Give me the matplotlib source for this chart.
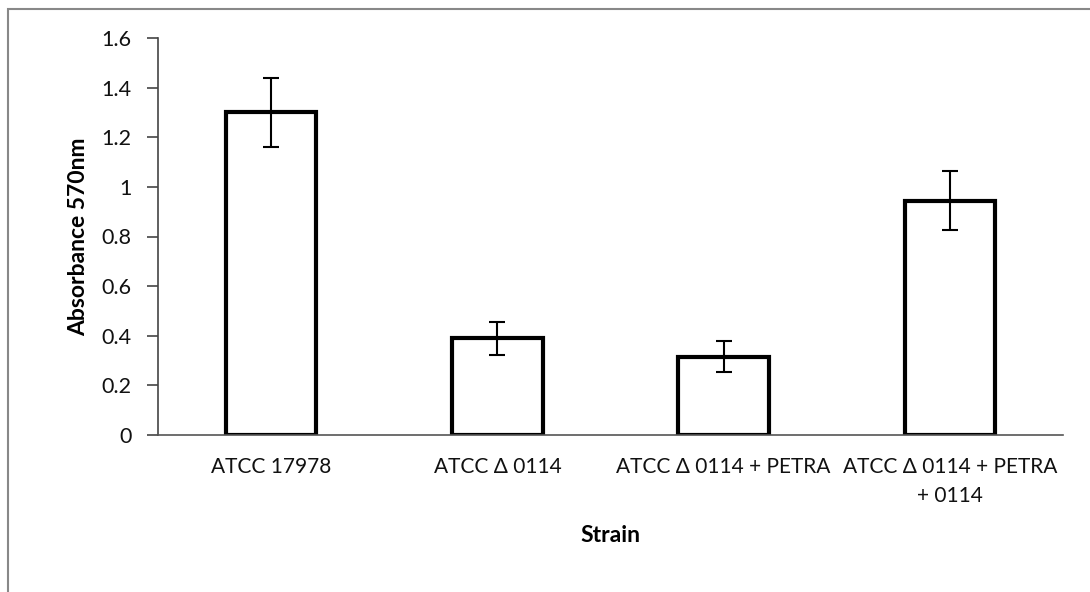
import matplotlib
matplotlib.use("Agg")
import matplotlib.pyplot as plt
from matplotlib.patches import Rectangle

strains = ["ATCC 17978", "ATCC \u0394 0114", "ATCC \u0394 0114 + PETRA",
           "ATCC \u0394 0114 + PETRA\n+ 0114"]
absorbance = [1.30, 0.39, 0.315, 0.945]
errors = [0.14, 0.067, 0.062, 0.117]
yticks = [0, 0.2, 0.4, 0.6, 0.8, 1, 1.2, 1.4, 1.6]
ytick_labels = ["0", "0.2", "0.4", "0.6", "0.8", "1", "1.2", "1.4", "1.6"]

plt.rcParams['font.family'] = ['Lato', 'DejaVu Sans']

fig = plt.figure(figsize=(10.9, 5.92), dpi=100)
ax = fig.add_axes([158 / 1090, 1 - 435 / 592, 905 / 1090, 397 / 592])

x = list(range(len(strains)))
ax.bar(x, absorbance, width=0.40, color="white", edgecolor="black",
       linewidth=3, zorder=2)
ax.errorbar(x, absorbance, yerr=errors, fmt="none", ecolor="black",
            elinewidth=1.5, capsize=6, capthick=1.5, zorder=3)

ax.set_xlim(-0.5, 3.5)
ax.set_ylim(0, 1.6)
ax.set_yticks(yticks)
ax.set_yticklabels(ytick_labels, fontsize=15.5, color="#111111")
ax.set_xticks(x)
ax.set_xticklabels(strains, fontsize=15, linespacing=1.55, color="#111111")
ax.tick_params(axis="x", length=0, pad=16)
ax.tick_params(axis="y", length=8, width=1.2, color="#444444", pad=11)

for side in ["top", "right"]:
    ax.spines[side].set_visible(False)
ax.spines["left"].set_color("#444444")
ax.spines["left"].set_linewidth(1.2)
ax.spines["bottom"].set_color("#555555")
ax.spines["bottom"].set_linewidth(1.2)

ax.set_ylabel("Absorbance 570nm", fontsize=16.5, fontweight="bold", labelpad=9)
fig.text(610 / 1090, 1 - 535 / 592, "Strain", fontsize=16.5,
         fontweight="bold", ha="center", va="center")

fig.patches.append(Rectangle((8 / 1090, -0.05), 1.2, 1 - 9 / 592 + 0.05,
                             transform=fig.transFigure, fill=False,
                             edgecolor="#888888", linewidth=1.5))

fig.savefig("out.png", dpi=100)
